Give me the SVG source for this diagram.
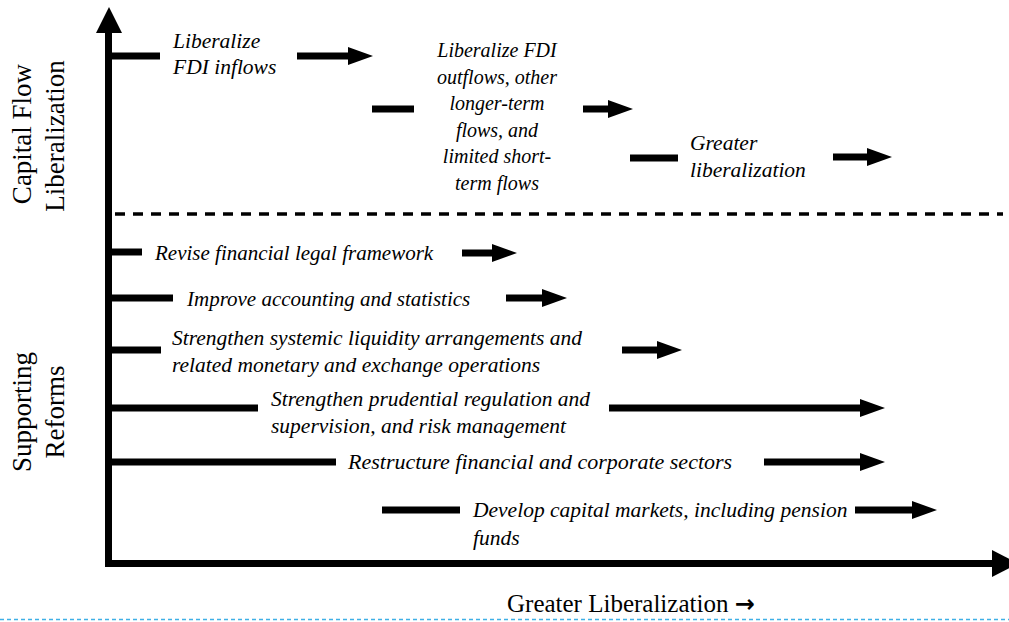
<svg xmlns="http://www.w3.org/2000/svg" width="1009" height="622" viewBox="0 0 1009 622">
  <style>
    .bar { stroke: #000; stroke-width: 7; fill: none; }
    .arrow { stroke: #000; stroke-width: 7; fill: none; marker-end: url(#head); }
    .axis { stroke: #000; stroke-width: 7; fill: none; }
    .lbl { font-family: "Liberation Serif", "Times New Roman", serif; font-style: italic; font-size: 21.5px; fill: #000; }
    .mid { font-size: 20px; }
    .sm { font-size: 21px; }
    .lg { font-size: 22px; }
    .side { font-family: "Liberation Serif", "Times New Roman", serif; font-size: 27px; fill: #000; text-anchor: middle; }
    .xlab { font-family: "Liberation Serif", "Times New Roman", serif; font-size: 25px; fill: #000; }
    .xarr { font-family: "DejaVu Sans", sans-serif; font-weight: bold; font-size: 24px; }
  </style>
  <defs>
    <marker id="head" markerUnits="userSpaceOnUse" markerWidth="25" markerHeight="18" viewBox="0 0 25 18" refX="0" refY="9" orient="auto">
      <path d="M0,0 L25,9 L0,18 z" fill="#000"/>
    </marker>
  </defs>
  <rect width="1009" height="622" fill="#fff"/>

  <!-- axes -->
  <g id="axes">
    <line class="axis" x1="108.5" y1="567" x2="108.5" y2="32"/>
    <polygon points="96,33 122,33 109,7" fill="#000"/>
    <line class="axis" x1="105" y1="563.5" x2="993" y2="563.5"/>
    <polygon points="992,550 1018,563.5 992,577" fill="#000"/>
    <line x1="115" y1="214" x2="1003" y2="214" stroke="#000" stroke-width="3.5" stroke-dasharray="10 8"/>
    <line x1="0" y1="619.5" x2="1009" y2="619.5" stroke="#3fb0e6" stroke-width="1.5" stroke-dasharray="4 3"/>
  </g>

  <!-- axis titles -->
  <g id="title-capital">
    <text class="side" transform="translate(31,134) rotate(-90)">Capital Flow</text>
    <text class="side" transform="translate(64,136) rotate(-90)">Liberalization</text>
  </g>
  <g id="title-reforms">
    <text class="side" transform="translate(31,412) rotate(-90)">Supporting</text>
    <text class="side" transform="translate(64,412) rotate(-90)">Reforms</text>
  </g>
  <g id="title-x">
    <text class="xlab" x="507" y="612">Greater Liberalization <tspan class="xarr">→</tspan></text>
  </g>

  <!-- connectors: lead-in bars and arrows -->
  <g id="connectors">
    <line class="bar" x1="112" y1="56" x2="160" y2="56"/>
    <line class="arrow" x1="297" y1="56" x2="348" y2="56"/>
    <line class="bar" x1="372" y1="109" x2="414" y2="109"/>
    <line class="arrow" x1="583" y1="109" x2="608" y2="109"/>
    <line class="bar" x1="630" y1="158" x2="678" y2="158"/>
    <line class="arrow" x1="833" y1="157" x2="867" y2="157"/>

    <line class="bar" x1="112" y1="252" x2="142" y2="252"/>
    <line class="arrow" x1="462" y1="253" x2="492" y2="253"/>
    <line class="bar" x1="112" y1="298" x2="173" y2="298"/>
    <line class="arrow" x1="506" y1="298" x2="542" y2="298"/>
    <line class="bar" x1="112" y1="350" x2="161" y2="350"/>
    <line class="arrow" x1="622" y1="350" x2="657" y2="350"/>
    <line class="bar" x1="112" y1="408" x2="258" y2="408"/>
    <line class="arrow" x1="609" y1="408" x2="860" y2="408"/>
    <line class="bar" x1="112" y1="462" x2="336" y2="462"/>
    <line class="arrow" x1="764" y1="462" x2="860" y2="462"/>
    <line class="bar" x1="382" y1="510" x2="460" y2="510"/>
    <line class="arrow" x1="855" y1="510" x2="912" y2="510"/>
  </g>

  <!-- capital flow stages -->
  <g id="fdi-inflows">
    <text class="lbl" x="173" y="48">Liberalize</text>
    <text class="lbl" x="173" y="74">FDI inflows</text>
  </g>
  <g id="fdi-outflows" text-anchor="middle">
    <text class="lbl mid" x="497" y="57">Liberalize FDI</text>
    <text class="lbl mid" x="497" y="83.6">outflows, other</text>
    <text class="lbl mid" x="497" y="110.2">longer-term</text>
    <text class="lbl mid" x="497" y="136.8">flows, and</text>
    <text class="lbl mid" x="497" y="163.4">limited short-</text>
    <text class="lbl mid" x="497" y="190">term flows</text>
  </g>
  <g id="greater-liberalization">
    <text class="lbl" x="690" y="150">Greater</text>
    <text class="lbl" x="690" y="177">liberalization</text>
  </g>

  <!-- supporting reforms -->
  <g id="legal-framework">
    <text class="lbl sm" x="155" y="260">Revise financial legal framework</text>
  </g>
  <g id="accounting">
    <text class="lbl sm" x="187" y="306">Improve accounting and statistics</text>
  </g>
  <g id="liquidity">
    <text class="lbl" x="172" y="345">Strengthen systemic liquidity arrangements and</text>
    <text class="lbl" x="172" y="372">related monetary and exchange operations</text>
  </g>
  <g id="prudential">
    <text class="lbl" x="271" y="406">Strengthen prudential regulation and</text>
    <text class="lbl" x="271" y="433">supervision, and risk management</text>
  </g>
  <g id="restructure">
    <text class="lbl lg" x="348" y="469">Restructure financial and corporate sectors</text>
  </g>
  <g id="capital-markets">
    <text class="lbl" x="473" y="517">Develop capital markets, including pension</text>
    <text class="lbl" x="473" y="545">funds</text>
  </g>
</svg>
